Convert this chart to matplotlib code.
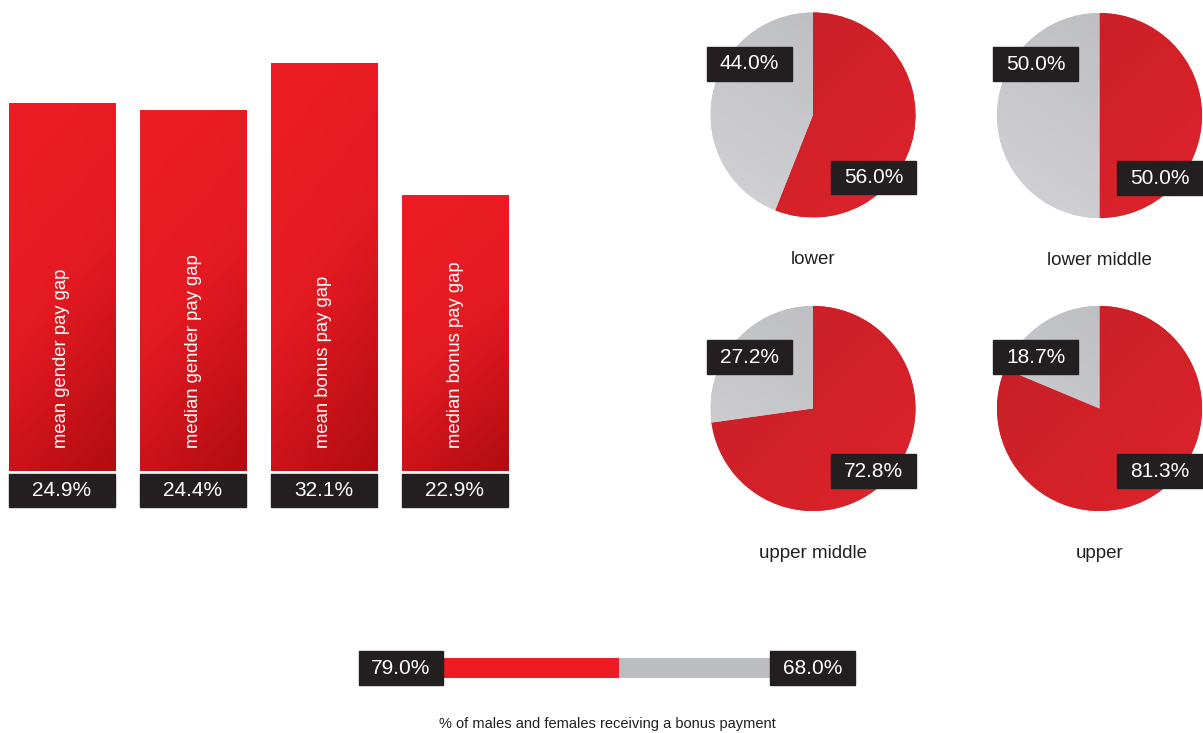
"""Gender pay gap overview: gap bars, pay quartile pies and bonus share bar."""

import matplotlib

matplotlib.use("Agg")

import matplotlib.pyplot as plt
import numpy as np
from matplotlib.colors import LinearSegmentedColormap
from matplotlib.patches import Rectangle

plt.rcParams["font.family"] = ["Liberation Sans", "DejaVu Sans"]

gap_labels = ["mean gender pay gap", "median gender pay gap",
              "mean bonus pay gap", "median bonus pay gap"]
gap_values = ["24.9%", "24.4%", "32.1%", "22.9%"]
gap_heights = [36.8, 36.1, 40.8, 27.6]

# pay quartiles: first share red (male), second grey (female)
quartiles = ["lower", "lower middle", "upper middle", "upper"]
male_share = [56.0, 50.0, 72.8, 81.3]
female_share = [44.0, 50.0, 27.2, 18.7]

# bonus payment
bonus_male = 79.0
bonus_female = 68.0

W, H = 1203, 733
BOX = "#231f20"
TXT = "#231f20"

red_bar_cmap = LinearSegmentedColormap.from_list("rb", ["#ee1d25", "#e41a22", "#b10c11"])
red_pie_cmap = LinearSegmentedColormap.from_list("rp", ["#c41f27", "#df232b"])
grey_pie_cmap = LinearSegmentedColormap.from_list("gp", ["#b9babd", "#d3d3d7"])


def gradient(ax, patch, cmap, extent, wx, wy):
    nx, ny = 60, 200
    xx, yy = np.meshgrid(np.linspace(0, 1, nx), np.linspace(0, 1, ny))
    g = wx * xx + wy * (1 - yy)
    im = ax.imshow(g, cmap=cmap, extent=extent, origin="lower", aspect="auto",
                   zorder=patch.get_zorder() + 0.1, vmin=min(0, wx) + min(0, wy),
                   vmax=max(0, wx) + max(0, wy))
    im.set_clip_path(patch)


def px_axes(fig, x0, y0, x1, y1):
    return fig.add_axes([x0 / W, 1 - y1 / H, (x1 - x0) / W, (y1 - y0) / H])


fig = plt.figure(figsize=(W / 100, H / 100), dpi=100)

# ---- bars ----
ax = px_axes(fig, 0, 40, 520, 520)
xs = np.arange(len(gap_heights))
bars = ax.bar(xs, gap_heights, width=0.81, color="#e41a22", zorder=2)
for x, b, lab, val in zip(xs, bars, gap_labels, gap_values):
    gradient(ax, b, red_bar_cmap, [x - 0.405, x + 0.405, 0, b.get_height()], 0.25, 0.75)
    ax.text(x, 2.3, lab, rotation=90, rotation_mode="anchor", ha="left", va="center",
            color="white", fontsize=13.3, zorder=5)
    ax.add_patch(Rectangle((x - 0.405, -3.6), 0.81, 3.3, color=BOX, zorder=3))
    ax.text(x, -1.95, val, ha="center", va="center", color="white", fontsize=15, zorder=5)
ax.set_xlim(-62 / 131, (520 - 62) / 131)
ax.set_ylim(-4.9, 43.1)
ax.axis("off")

# ---- quartile pies ----
centres = [(813, 115), (1099.5, 115.5), (813, 408.5), (1099.5, 408.5)]
R = 102.5
for (cx, cy), name, m, f in zip(centres, quartiles, male_share, female_share):
    pa = px_axes(fig, cx - 1.3 * R, cy - 1.3 * R, cx + 1.3 * R, cy + 1.3 * R)
    wedges, _ = pa.pie([m, f], startangle=90, counterclock=False,
                       colors=["#d42129", "#c4c4c7"], radius=1.0)
    gradient(pa, wedges[0], red_pie_cmap, [-1, 1, -1, 1], 0.5, 0.5)
    gradient(pa, wedges[1], grey_pie_cmap, [-1, 1, -1, 1], -0.4, 0.6)
    pa.add_patch(Rectangle((-0.62 - 0.415, 0.50 - 0.165), 0.83, 0.33, color=BOX,
                           zorder=4, clip_on=False))
    pa.text(-0.62, 0.50, f"{f:.1f}%", ha="center", va="center", color="white",
            fontsize=15, zorder=5, clip_on=False)
    pa.add_patch(Rectangle((0.59 - 0.415, -0.61 - 0.165), 0.83, 0.33, color=BOX,
                           zorder=4, clip_on=False))
    pa.text(0.59, -0.61, f"{m:.1f}%", ha="center", va="center", color="white",
            fontsize=15, zorder=5, clip_on=False)
    pa.text(0, -1.41, name, ha="center", va="center", color=TXT, fontsize=13.5)
    pa.set_xlim(-1.3, 1.3)
    pa.set_ylim(-1.3, 1.3)
    pa.set_aspect("auto")
    pa.axis("off")

# ---- bonus bar ----
bx = px_axes(fig, 340, 638, 870, 698)
scale = 327 / (bonus_male + bonus_female)
bx.barh(0, bonus_male, left=0, height=20, color="#ed1c24")
bx.barh(0, bonus_female, left=bonus_male, height=20, color="#bcbdc0")
lw = 84 / scale
bx.add_patch(Rectangle((-lw, -17), lw, 34, color=BOX))
bx.text(-lw / 2, 0, f"{bonus_male:.1f}%", ha="center", va="center", color="white", fontsize=15)
tot = bonus_male + bonus_female
bx.add_patch(Rectangle((tot, -17), 85 / scale, 34, color=BOX))
bx.text(tot + 42.5 / scale, 0, f"{bonus_female:.1f}%", ha="center", va="center",
        color="white", fontsize=15)
bx.set_xlim(-(443 - 340) / scale, tot + (870 - 770) / scale)
bx.set_ylim(-30, 30)
bx.axis("off")

fig.text(607 / W, 1 - 724 / H, "% of males and females receiving a bonus payment",
         ha="center", va="center", color=TXT, fontsize=10.5)

fig.savefig("out.png", dpi=100)
